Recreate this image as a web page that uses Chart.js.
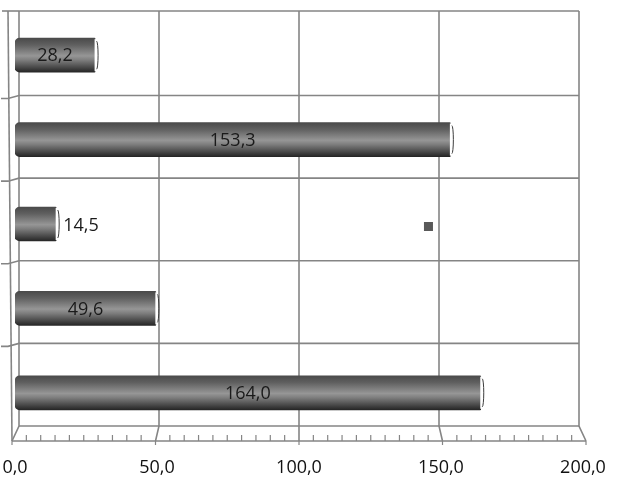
<!DOCTYPE html>
<html>
<head>
<meta charset="utf-8">
<script src="https://cdn.jsdelivr.net/npm/chart.js@4"></script>
<style>
  html, body { margin: 0; padding: 0; background: #fff; }
  #wrap { width: 626px; height: 491px; }
</style>
</head>
<body>
<div id="wrap"><canvas id="myChart"></canvas></div>
<script>
const categories = ["1", "2", "3", "4", "5"];
const values = [28.2, 153.3, 14.5, 49.6, 164.0];
const xTicks = [0, 50, 100, 150, 200];
const minorStep = 5;

const FONT = "'Open Sans', sans-serif";
const LINE = "#858585";
const fmt = (v) => v.toFixed(1).replace(".", ",");

// cylinder-ish shading, computed from the category scale
function barGradient(context) {
  const chart = context.chart;
  const yScale = chart.scales.y;
  if (!yScale) return "#555";
  const c = yScale.getPixelForValue(context.dataIndex);
  if (!Number.isFinite(c)) return "#555";
  const g = chart.ctx.createLinearGradient(0, c - 17, 0, c + 17);
  g.addColorStop(0, "#4a4a4a");
  g.addColorStop(0.2, "#606060");
  g.addColorStop(0.52, "#969696");
  g.addColorStop(0.64, "#7e7e7e");
  g.addColorStop(1, "#262626");
  return g;
}

// 3d walls / floor, drawn from the scales
const framePlugin = {
  id: "frame",
  beforeDatasetsDraw(chart) {
    const { ctx, chartArea: a, scales } = chart;
    const xs = scales.x, ys = scales.y;
    const cx = (a.left + a.right) / 2;
    const half = (a.right - a.left) / 2;
    const bx = (px) => cx + (px - cx) * (half - 4) / half;
    const fx = (px) => cx + (px - cx) * (half + 3) / half;
    const top = a.top - 2;
    const backBottom = a.bottom - 9;
    const frontBottom = a.bottom + 6;
    const by = (py) => top + (py - top) * (backBottom - top) / (a.bottom - top);

    ctx.save();
    ctx.strokeStyle = LINE;
    ctx.lineWidth = 1.6;

    // back wall verticals
    xTicks.forEach((v) => {
      const p = xs.getPixelForValue(v);
      ctx.beginPath();
      ctx.moveTo(bx(p), top);
      ctx.lineTo(bx(p), backBottom);
      ctx.lineTo(fx(p), frontBottom);
      ctx.stroke();
    });

    // back wall horizontals + left wall ticks
    const x0 = xs.getPixelForValue(0);
    const x1 = xs.getPixelForValue(200);
    for (let i = 0; i <= categories.length; i++) {
      const py = i === 0 ? top : by(ys.getPixelForValue(i - 0.5));
      ctx.beginPath();
      ctx.moveTo(bx(x1), py);
      ctx.lineTo(bx(x0), py);
      if (i > 0 && i < categories.length) {
        ctx.lineTo(fx(x0) - 4, py + 3);
        ctx.lineTo(fx(x0) - 11, py + 3);
      }
      ctx.stroke();
    }
    // top edge reaches over the left wall
    ctx.beginPath();
    ctx.moveTo(fx(x0) - 10, top);
    ctx.lineTo(bx(x0), top);
    ctx.stroke();

    // left wall front edge
    ctx.beginPath();
    ctx.moveTo(fx(x0) - 4, top);
    ctx.lineTo(fx(x0), frontBottom);
    ctx.stroke();

    // floor front edge with minor ticks
    ctx.beginPath();
    ctx.moveTo(fx(x0), frontBottom);
    ctx.lineTo(fx(x1), frontBottom);
    ctx.stroke();
    ctx.lineWidth = 1.2;
    for (let v = 0; v <= 200; v += minorStep) {
      const p = fx(xs.getPixelForValue(v));
      ctx.beginPath();
      ctx.moveTo(p, frontBottom);
      ctx.lineTo(p, frontBottom - (v % 50 === 0 ? 0 : 6));
      ctx.stroke();
    }
    // small drop marks under major ticks
    xTicks.forEach((v) => {
      const p = fx(xs.getPixelForValue(v));
      ctx.beginPath();
      ctx.moveTo(p, frontBottom);
      ctx.lineTo(p, frontBottom + 4);
      ctx.stroke();
    });
    ctx.restore();
  },
};

// value labels, bar end highlights, lone legend square
const labelPlugin = {
  id: "barLabels",
  afterDatasetsDraw(chart) {
    const { ctx } = chart;
    const meta = chart.getDatasetMeta(0);
    ctx.save();
    meta.data.forEach((el, i) => {
      // end cap
      ctx.strokeStyle = "#ffffff";
      ctx.lineWidth = 2;
      ctx.beginPath();
      ctx.moveTo(el.x + 0.5, el.y - 16);
      ctx.lineTo(el.x + 0.5, el.y + 16);
      ctx.stroke();
      ctx.strokeStyle = "#3c3c3c";
      ctx.lineWidth = 1;
      ctx.beginPath();
      ctx.ellipse(el.x + 1.5, el.y, 1.5, 14, 0, -Math.PI / 2, Math.PI / 2);
      ctx.stroke();

      ctx.fillStyle = "#1a1a1a";
      ctx.font = "18px " + FONT;
      ctx.textBaseline = "middle";
      const txt = fmt(values[i]);
      if (el.x - el.base > 60) {
        ctx.textAlign = "center";
        ctx.fillText(txt, (el.x + el.base) / 2, el.y + 1);
      } else {
        ctx.textAlign = "left";
        ctx.fillText(txt, el.x + 7, el.y + 2);
      }
    });
    // legend key with no text
    const a = chart.chartArea;
    const lx = a.left + (a.right - a.left) * 0.72;
    const ly = a.top + (a.bottom - a.top) * 0.5 - 2;
    ctx.fillStyle = "#595959";
    ctx.fillRect(lx, ly, 9, 9);
    ctx.restore();
  },
};

const ctx = document.getElementById("myChart").getContext("2d");

const chart = new Chart(ctx, {
  type: "bar",
  data: {
    labels: categories,
    datasets: [
      {
        label: "",
        data: values,
        backgroundColor: barGradient,
        borderWidth: 0,
        borderRadius: { topLeft: 5, bottomLeft: 5, topRight: 1, bottomRight: 1 },
        borderSkipped: false,
        barThickness: 34,
      },
    ],
  },
  options: {
    indexAxis: "y",
    responsive: true,
    maintainAspectRatio: false,
    animation: false,
    layout: {
      padding: { left: 15, right: 43, top: 13, bottom: 6 },
    },
    plugins: {
      legend: { display: false },
      tooltip: { enabled: false },
    },
    scales: {
      x: {
        min: 0,
        max: 200,
        border: { display: false },
        grid: { display: false, drawTicks: false },
        ticks: {
          stepSize: 50,
          padding: 22,
          maxRotation: 0,
          color: "#111",
          font: { family: FONT, size: 18 },
          callback: (v) => fmt(v),
        },
        afterBuildTicks: (scale) => {
          scale.ticks = xTicks.map((v) => ({ value: v }));
        },
        afterFit: (scale) => {
          scale.height = 50;
          scale.paddingLeft = 0;
          scale.paddingRight = 0;
        },
      },
      y: {
        display: false,
        grid: { display: false },
      },
    },
  },
  plugins: [framePlugin, labelPlugin],
});
</script>
</body>
</html>
